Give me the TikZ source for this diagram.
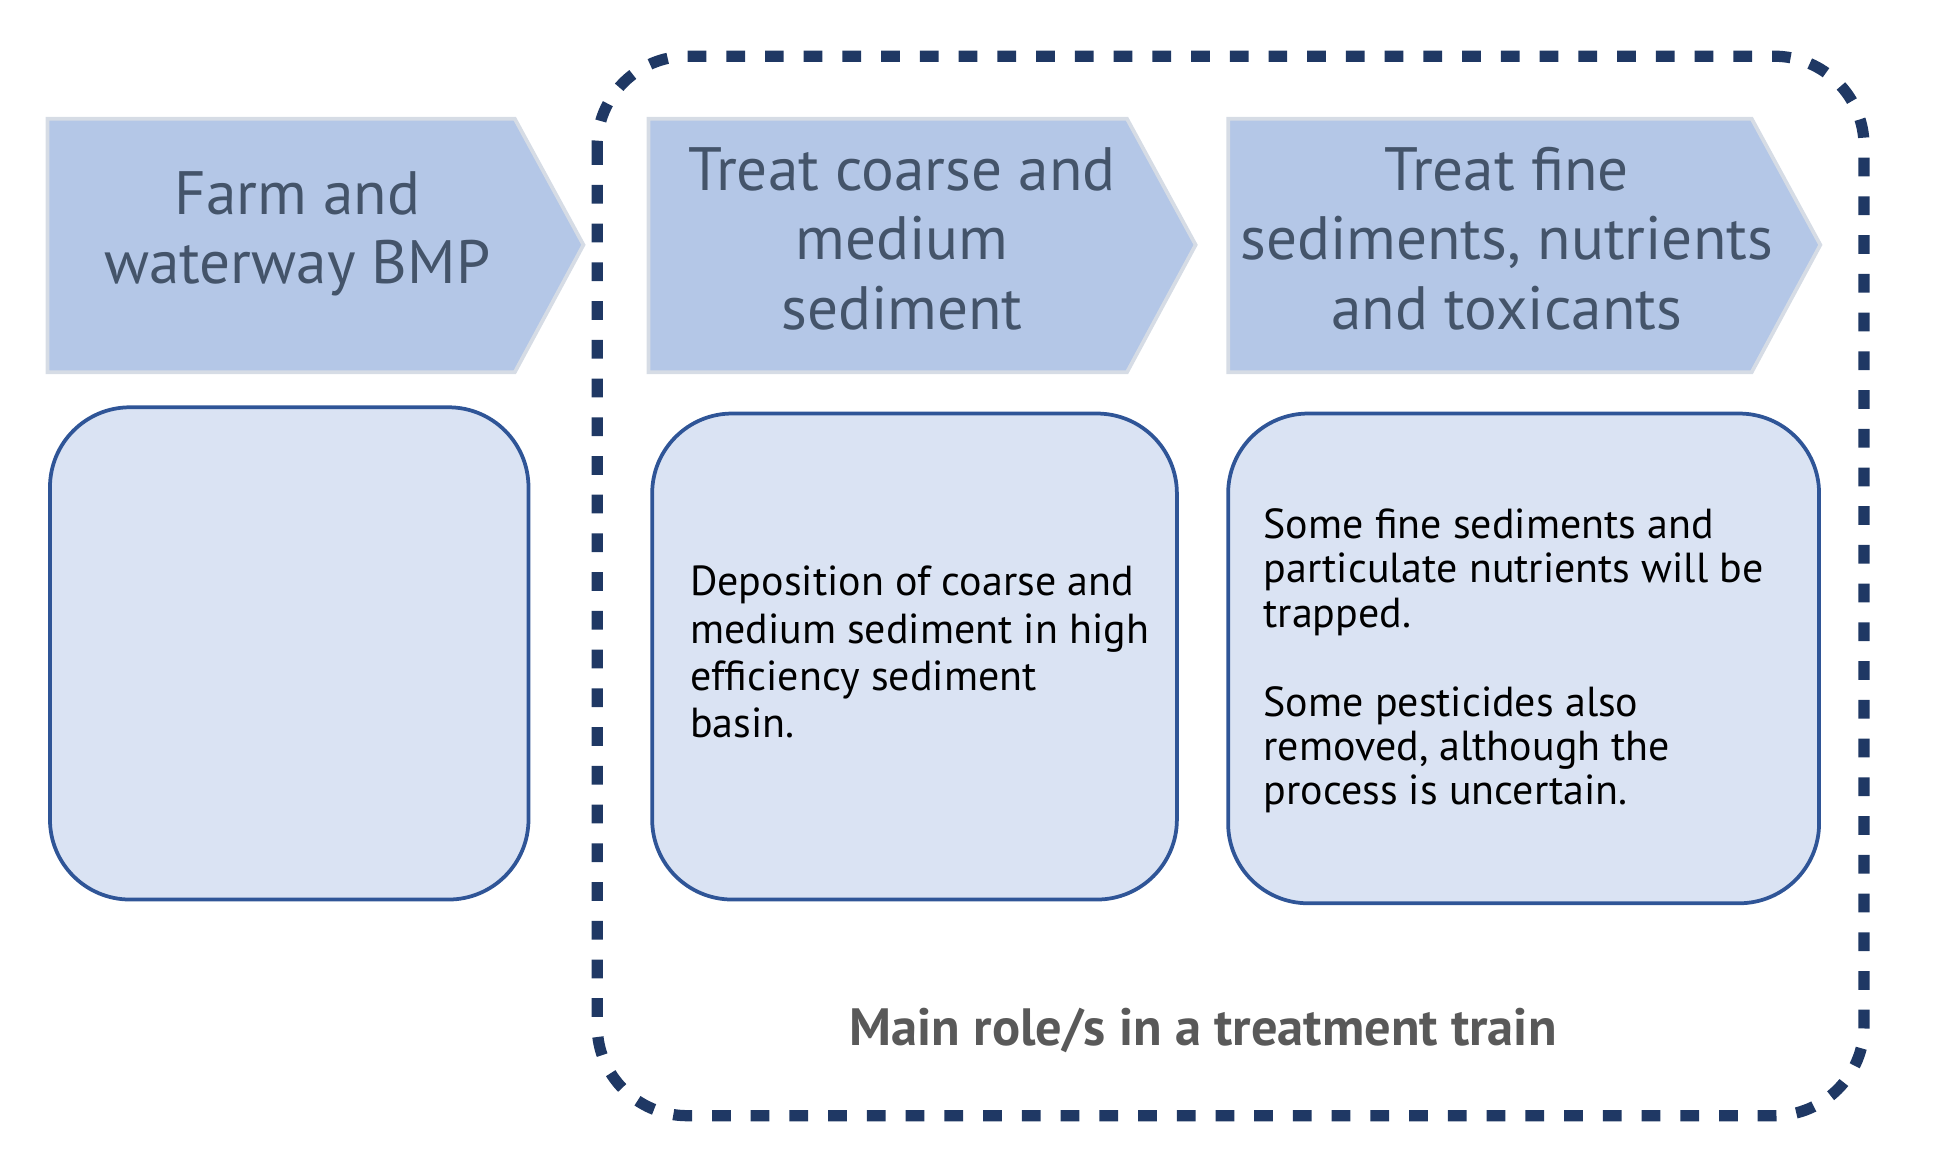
\documentclass[tikz,border=0pt]{standalone}
\usepackage{fontspec}
\setmainfont{PT Sans}
\usetikzlibrary{positioning}
\definecolor{chevfill}{HTML}{B4C7E7}
\definecolor{chevline}{HTML}{D6DCE5}
\definecolor{boxfill}{HTML}{DAE3F3}
\definecolor{boxline}{HTML}{2F5597}
\definecolor{trainline}{HTML}{1F3864}
\definecolor{headtext}{HTML}{44546A}
\definecolor{roletext}{HTML}{595959}
\tikzset{
  chevron/.style={fill=chevfill,draw=chevline,line width=1.5pt},
  rolebox/.style={fill=boxfill,draw=boxline,line width=1.5pt,rounded corners=32pt},
  headlabel/.style={text=headtext,font=\fontsize{24.5}{27.75}\selectfont,align=center},
  bodylabel/.style={font=\fontsize{16.8}{19}\selectfont,align=left,anchor=west,inner sep=0pt},
}

\begin{document}
\begin{tikzpicture}[x=0.5pt,y=-0.5pt]
\useasboundingbox (0,0) rectangle (1568,924);
% treatment train frame
\draw[trainline,line width=4.5pt,dash pattern=on 7.5pt off 8pt,rounded corners=36pt] (478,45) rectangle (1492,893);
% chevrons
\foreach \x/\w in {38/374, 519/383, 983/419}
  \draw[chevron] (\x,95) -- ++(\w,0) -- ++(55,101) -- ++(-55,102) -- ++(-\w,0) -- cycle;
\node[headlabel] (farm) at (238,187) {Farm and\\waterway BMP};
\node[headlabel] (coarse) at (722,191) {Treat coarse and\\medium\\sediment};
\node[headlabel] (fine) at (1206,191) {Treat fine\\sediments, nutrients\\and toxicants};
% role boxes
\draw[rolebox] (40,326) rectangle (423,720);
\draw[rolebox] (522,331) rectangle (942,720);
\draw[rolebox] (983,331) rectangle (1456,723);
\node[bodylabel] (coarsetext) at (552,522) {Deposition of coarse and\\medium sediment in high\\efficiency sediment\\basin.};
\node[bodylabel,font=\fontsize{16.8}{17.75}\selectfont] (finetext) at (1011,529) {Some fine sediments and\\particulate nutrients will be\\trapped.\\[17.75pt]Some pesticides also\\removed, although the\\process is uncertain.};
\node[text=roletext,font=\bfseries\fontsize{21}{23}\selectfont] (role) at (963,825) {Main role/s in a treatment train};
\end{tikzpicture}
\end{document}
